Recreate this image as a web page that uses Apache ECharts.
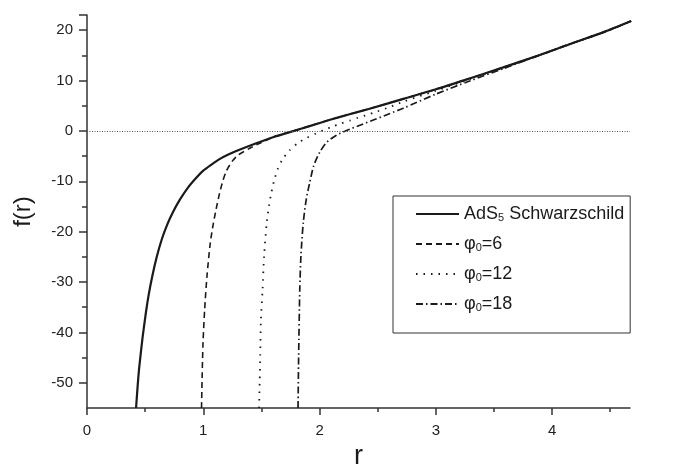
<!DOCTYPE html>
<html>
<head>
<meta charset="utf-8">
<script src="https://cdn.jsdelivr.net/npm/echarts@6/dist/echarts.min.js"></script>
<style>
  html, body { margin: 0; padding: 0; background: #fff; }
  #chart { width: 673px; height: 464px; }
</style>
</head>
<body>
<div id="chart"></div>
<script>
// values: r and f(r) for each curve
const rAdS = [0.422, 0.435, 0.449, 0.478, 0.507, 0.53, 0.561, 0.6, 0.642, 0.69, 0.742, 0.8, 0.87, 0.94, 1.0, 1.07, 1.14, 1.22, 1.3, 1.45, 1.6, 1.78, 1.9, 2.09, 2.25, 2.43, 2.72, 3.0, 3.29, 3.58, 3.9, 4.15, 4.45, 4.68];
const fAdS = [-55, -50.8, -47, -41, -36, -32.6, -28.9, -25, -21.6, -18.6, -16, -13.6, -11.2, -9.3, -7.9, -6.7, -5.6, -4.65, -3.85, -2.5, -1.25, 0, 0.85, 2.2, 3.25, 4.4, 6.35, 8.25, 10.4, 12.6, 15.1, 17.2, 19.65, 21.8];

const rPhi6 = [0.985, 0.99, 0.998, 1.012, 1.032, 1.06, 1.085, 1.11, 1.14, 1.17, 1.2, 1.25, 1.3, 1.4, 1.5, 1.6, 1.78, 1.9, 2.09, 2.25, 2.43, 2.72, 3.0, 3.29, 3.58, 3.9, 4.15, 4.45, 4.68];
const fPhi6 = [-55, -49, -42, -35.4, -28.8, -22.3, -18.6, -15.6, -12.4, -9.8, -7.9, -6.0, -4.8, -3.45, -2.3, -1.25, 0, 0.85, 2.2, 3.25, 4.4, 6.35, 8.25, 10.4, 12.6, 15.1, 17.2, 19.65, 21.8];

const rPhi12 = [1.48, 1.485, 1.49, 1.495, 1.51, 1.523, 1.546, 1.565, 1.585, 1.61, 1.64, 1.68, 1.74, 1.82, 1.89, 1.97, 2.04, 2.11, 2.18, 2.26, 2.33, 2.4, 2.47, 2.6, 2.72, 3.0, 3.29, 3.58, 3.9, 4.15, 4.45, 4.68];
const fPhi12 = [-55, -50, -44.6, -38, -31.4, -24.8, -18.2, -15, -12.3, -9.8, -7.6, -5.7, -3.9, -2.3, -1.4, -0.5, 0.2, 0.85, 1.45, 2.05, 2.6, 3.1, 3.65, 4.7, 5.8, 7.95, 10.25, 12.6, 15.1, 17.2, 19.65, 21.8];

const rPhi18 = [1.815, 1.82, 1.83, 1.84, 1.86, 1.887, 1.916, 1.95, 2.0, 2.06, 2.145, 2.26, 2.37, 2.49, 2.6, 2.72, 3.0, 3.29, 3.58, 3.9, 4.15, 4.45, 4.68];
const fPhi18 = [-55, -45, -31.4, -24.8, -18.2, -13.4, -10.2, -6.9, -4.3, -2.3, -0.85, 0.34, 1.33, 2.4, 3.4, 4.5, 7.3, 9.9, 12.35, 15.1, 17.2, 19.65, 21.8];

const seriesNames = ['AdS5 Schwarzschild', 'φ0=6', 'φ0=12', 'φ0=18'];
const legendLabels = ['AdS{sub|5} Schwarzschild', 'φ{sub|0}=6', 'φ{sub|0}=12', 'φ{sub|0}=18'];

const xTicks = [0, 1, 2, 3, 4];
const yTicks = [-50, -40, -30, -20, -10, 0, 10, 20];

const pairs = (rs, fs) => rs.map((r, i) => [r, fs[i]]);

const curves = [
  pairs(rAdS, fAdS),
  pairs(rPhi6, fPhi6),
  pairs(rPhi12, fPhi12),
  pairs(rPhi18, fPhi18)
];

const dashes = ['solid', [6, 4], [1.5, 6], [7, 3, 1.5, 3]];
const widths = [2.2, 1.6, 1.8, 1.7];

const ink = '#1a1a1a';
const fontFamily = '"Liberation Sans", Arial, sans-serif';

const chart = echarts.init(document.getElementById('chart'), null, { renderer: 'canvas' });

// solid curve on top so the merged tails look clean
const series = curves.map((data, i) => ({
  name: seriesNames[i],
  type: 'line',
  data: data,
  showSymbol: false,
  symbol: 'none',
  smooth: 0.25,
  clip: true,
  lineStyle: { color: ink, width: widths[i], type: dashes[i] },
  itemStyle: { color: ink },
  z: i === 0 ? 4 : 3
}));

// dotted zero line
series[0].markLine = {
  silent: true,
  symbol: 'none',
  label: { show: false },
  lineStyle: { color: '#555', width: 1, type: [1, 1.5] },
  data: [{ yAxis: 0 }]
};

const option = {
  animation: false,
  backgroundColor: '#fff',
  grid: { left: 87, right: 43, top: 15, bottom: 56, containLabel: false, outerBoundsMode: 'none' },
  legend: {
    orient: 'vertical',
    left: 393,
    top: 196,
    data: seriesNames,
    itemWidth: 43,
    itemHeight: 14,
    itemGap: 12,
    padding: [9, 6, 20, 22],
    borderColor: '#333',
    borderWidth: 1,
    backgroundColor: '#fff',
    itemStyle: { opacity: 0 },
    formatter: (name) => legendLabels[seriesNames.indexOf(name)],
    textStyle: {
      color: ink,
      fontSize: 18,
      lineHeight: 18,
      fontFamily: fontFamily,
      rich: {
        sub: { fontSize: 11, lineHeight: 11, fontFamily: fontFamily, color: ink, padding: [7, 0, 0, 0] }
      }
    }
  },
  xAxis: {
    type: 'value',
    min: 0,
    max: 4.67,
    interval: 1,
    name: 'r',
    nameLocation: 'middle',
    nameGap: 28,
    nameTextStyle: { fontSize: 27, color: ink, fontFamily: fontFamily },
    axisLine: { show: true, onZero: false, lineStyle: { color: '#333', width: 1.5 } },
    axisTick: { show: true, length: 7, customValues: xTicks, lineStyle: { color: '#333', width: 1.5 } },
    minorTick: { show: true, splitNumber: 2, length: 4, lineStyle: { color: '#333', width: 1.5 } },
    axisLabel: { customValues: xTicks, fontSize: 15, color: '#222', margin: 15, fontFamily: fontFamily },
    splitLine: { show: false }
  },
  yAxis: {
    type: 'value',
    min: -55,
    max: 23,
    splitNumber: 8,
    name: 'f(r)',
    nameLocation: 'middle',
    nameGap: 52,
    nameTextStyle: { fontSize: 24, color: ink, fontFamily: fontFamily },
    axisLine: { show: true, onZero: false, lineStyle: { color: '#333', width: 1.5 } },
    axisTick: { show: true, length: 8, customValues: yTicks.concat([23]), lineStyle: { color: '#333', width: 1.5 } },
    minorTick: { show: true, splitNumber: 2, length: 5, lineStyle: { color: '#333', width: 1.5 } },
    axisLabel: { customValues: yTicks, fontSize: 15, color: '#222', margin: 14, fontFamily: fontFamily },
    splitLine: { show: false }
  },
  series: series
};

chart.setOption(option);
</script>
</body>
</html>
